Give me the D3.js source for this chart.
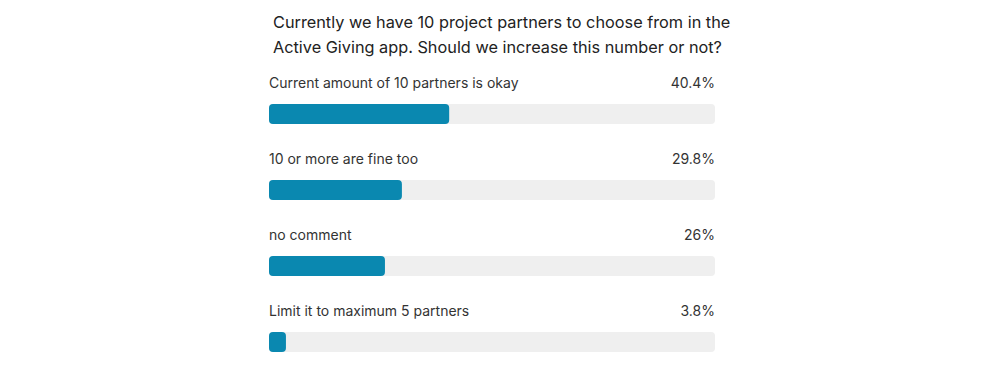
<!DOCTYPE html>
<html><head><meta charset="utf-8">
<script src="https://cdn.jsdelivr.net/npm/d3@7"></script>
<style>body{margin:0;background:#fff;} svg{display:block;}</style>
</head><body>
<svg id="chart" width="1000" height="366"></svg>
<script>
const titleLines = ["Currently we have 10 project partners to choose from in the", "Active Giving app. Should we increase this number or not?"];
const categories = ["Current amount of 10 partners is okay", "10 or more are fine too", "no comment", "Limit it to maximum 5 partners"];
const values = [40.4, 29.8, 26, 3.8];
const valueLabels = ["40.4%", "29.8%", "26%", "3.8%"];

const svg = d3.select("#chart");
const font = "Inter, 'Noto Sans', sans-serif";
const x0 = 269, x1 = 715;
const x = d3.scaleLinear().domain([0, 100]).range([x0, x1]);
const y = d3.scaleBand().domain(categories).range([66, 370]).paddingInner(0).paddingOuter(0);

svg.append("g").selectAll("text").data(titleLines).join("text")
  .attr("x", 273).attr("y", (d,i) => 28 + i*25)
  .attr("font-family", font).attr("font-size", 16.3).attr("fill", "#222")
  .text(d => d);

const g = svg.append("g").selectAll("g").data(categories).join("g")
  .attr("transform", d => `translate(0,${y(d)})`);

g.append("text").attr("x", x0).attr("y", 22)
  .attr("font-family", font).attr("font-size", 14).attr("fill", "#333")
  .text(d => d);
g.append("text").attr("x", x1).attr("y", 22).attr("text-anchor", "end")
  .attr("font-family", font).attr("font-size", 14).attr("fill", "#333")
  .text((d,i) => valueLabels[i]);
g.append("rect").attr("x", x0).attr("y", 38).attr("width", x1 - x0).attr("height", 20)
  .attr("rx", 4).attr("fill", "#efefef");
g.append("rect").attr("x", x0).attr("y", 38).attr("width", (d,i) => x(values[i]) - x0).attr("height", 20)
  .attr("rx", 4).attr("fill", "#0a88b0");
</script>
</body></html>
